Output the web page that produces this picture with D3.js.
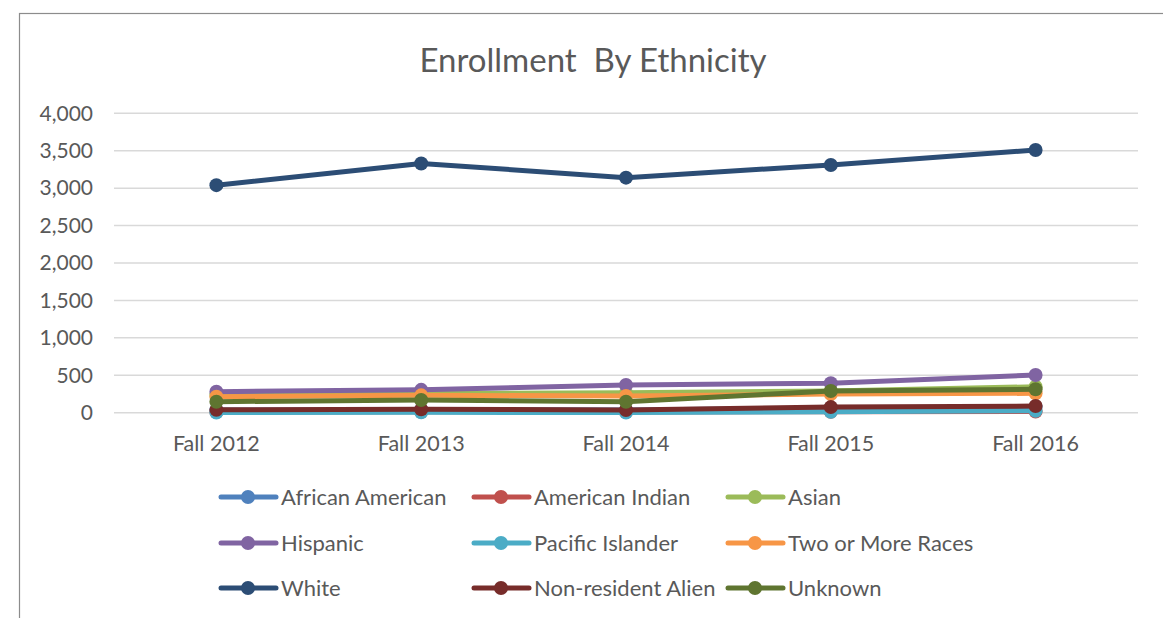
<!DOCTYPE html>
<html>
<head>
<meta charset="utf-8">
<script src="https://cdn.jsdelivr.net/npm/d3@7"></script>
<style>
  body { margin: 0; background: #fff; }
  text { font-family: Lato, "Open Sans", sans-serif; fill: #595959; }
</style>
</head>
<body>
<div id="chart"></div>
<script>
// data
const years = ["Fall 2012", "Fall 2013", "Fall 2014", "Fall 2015", "Fall 2016"];
const seriesNames = ["African American", "American Indian", "Asian", "Hispanic", "Pacific Islander",
  "Two or More Races", "White", "Non-resident Alien", "Unknown"];
const africanAmerican = [35, 40, 35, 60, 75];
const americanIndian = [10, 12, 10, 12, 15];
const asian = [235, 255, 265, 290, 347];
const hispanic = [281, 305, 370, 395, 504];
const pacificIslander = [3, 5, 3, 13, 27];
const twoOrMore = [214, 232, 223, 250, 259];
const white = [3040, 3330, 3140, 3310, 3510];
const nonResident = [38, 45, 36, 75, 89];
const unknown = [147, 170, 147, 290, 313];
const yTicks = [0, 500, 1000, 1500, 2000, 2500, 3000, 3500, 4000];
const colors = ["#4F81BD", "#C0504D", "#9BBB59", "#8064A2", "#4BACC6", "#F79646", "#2C4D75", "#772C2A", "#5F7530"];

const values = [africanAmerican, americanIndian, asian, hispanic, pacificIslander, twoOrMore, white, nonResident, unknown];
const series = seriesNames.map((name, i) => ({ name, color: colors[i], values: values[i] }));

const W = 1163, H = 618;
const svg = d3.select("#chart").append("svg")
  .attr("width", W).attr("height", H);

// chart border (right and bottom are cut off in the picture)
svg.append("rect")
  .attr("x", 19.5).attr("y", 13.5)
  .attr("width", W + 10).attr("height", H + 10)
  .attr("fill", "none").attr("stroke", "#8c8c8c").attr("stroke-width", 1.2);

svg.append("text")
  .attr("x", 593).attr("y", 72)
  .attr("text-anchor", "middle")
  .style("font-size", "33px")
  .style("white-space", "pre")
  .text("Enrollment  By Ethnicity");

const x = d3.scaleBand().domain(years).range([114, 1138]);
const y = d3.scaleLinear().domain([0, 4000]).range([412.7, 113.3]);

// gridlines
svg.append("g")
  .selectAll("line")
  .data(yTicks)
  .enter().append("line")
  .attr("x1", 114).attr("x2", 1138)
  .attr("y1", d => y(d)).attr("y2", d => y(d))
  .attr("stroke", "#d9d9d9").attr("stroke-width", 1.5);

// y axis labels
const yAxis = svg.append("g")
  .attr("transform", "translate(93,0)")
  .call(d3.axisLeft(y).tickValues(yTicks).tickSize(0).tickPadding(0).tickFormat(d3.format(",")));
yAxis.select(".domain").remove();
yAxis.selectAll("text").style("font-size", "21px").attr("fill", "#595959").style("font-family", "Lato, sans-serif");

// x axis labels
const xAxis = svg.append("g")
  .attr("transform", "translate(0,436)")
  .call(d3.axisBottom(x).tickSize(0).tickPadding(0));
xAxis.select(".domain").remove();
xAxis.selectAll("text").style("font-size", "21.5px").attr("fill", "#595959").style("font-family", "Lato, sans-serif");

const line = d3.line()
  .x((d, i) => x(years[i]) + x.bandwidth() / 2)
  .y(d => y(d));

const g = svg.append("g");
series.forEach(s => {
  g.append("path")
    .datum(s.values)
    .attr("d", line)
    .attr("fill", "none")
    .attr("stroke", s.color)
    .attr("stroke-width", 5)
    .attr("stroke-linejoin", "round")
    .attr("stroke-linecap", "round");
  g.selectAll(null)
    .data(s.values)
    .enter().append("circle")
    .attr("cx", (d, i) => x(years[i]) + x.bandwidth() / 2)
    .attr("cy", d => y(d))
    .attr("r", 7)
    .attr("fill", s.color);
});

// legend, 3 columns
const colX = [221, 474, 728];
const rowY = [497, 543, 588];
const legend = svg.append("g");
series.forEach((s, i) => {
  const lx = colX[i % 3], ly = rowY[Math.floor(i / 3)];
  legend.append("line")
    .attr("x1", lx).attr("x2", lx + 55)
    .attr("y1", ly).attr("y2", ly)
    .attr("stroke", s.color).attr("stroke-width", 5).attr("stroke-linecap", "round");
  legend.append("circle")
    .attr("cx", lx + 27).attr("cy", ly).attr("r", 7).attr("fill", s.color);
  legend.append("text")
    .attr("x", lx + 60).attr("y", ly)
    .attr("dy", "0.35em")
    .style("font-size", "22px")
    .text(s.name);
});
</script>
</body>
</html>
